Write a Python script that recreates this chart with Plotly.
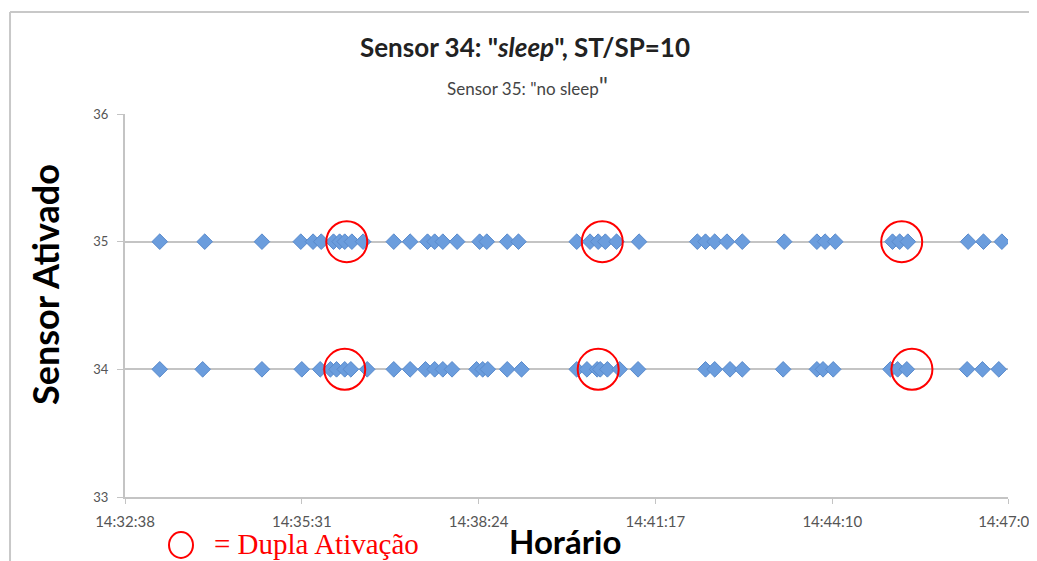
import plotly.graph_objects as go

# horários de ativação por sensor
DIA = "2013-01-01 "
t35 = ["14:33:12", "14:33:56", "14:34:52", "14:35:30", "14:35:42", "14:35:50", "14:36:02",
       "14:36:08", "14:36:13", "14:36:20", "14:36:31", "14:37:01", "14:37:17", "14:37:34",
       "14:37:41", "14:37:49", "14:38:03", "14:38:25", "14:38:32", "14:38:52", "14:39:03",
       "14:40:00", "14:40:13", "14:40:21", "14:40:28", "14:40:39", "14:41:01", "14:41:58",
       "14:42:06", "14:42:15", "14:42:27", "14:42:42", "14:43:23", "14:43:55", "14:44:03",
       "14:44:13", "14:45:09", "14:45:16", "14:45:24", "14:46:23", "14:46:38", "14:46:56"]
t34 = ["14:33:12", "14:33:54", "14:34:52", "14:35:31", "14:35:49", "14:35:59", "14:36:05",
       "14:36:13", "14:36:19", "14:36:35", "14:37:01", "14:37:17", "14:37:32", "14:37:41",
       "14:37:49", "14:37:58", "14:38:22", "14:38:28", "14:38:33", "14:38:52", "14:39:06",
       "14:40:00", "14:40:10", "14:40:20", "14:40:23", "14:40:30", "14:40:42", "14:41:00",
       "14:42:06", "14:42:15", "14:42:30", "14:42:42", "14:43:22", "14:43:55", "14:44:01",
       "14:44:11", "14:45:07", "14:45:14", "14:45:23", "14:46:22", "14:46:37", "14:46:53"]

# dupla ativação (círculos vermelhos)
dupla_t = ["14:36:15", "14:40:25", "14:45:18", "14:36:13", "14:40:21", "14:45:28"]
dupla_s = [35, 35, 35, 34, 34, 34]

ticks_x = ["14:32:38", "14:35:31", "14:38:24", "14:41:17", "14:44:10", "14:47:02"]
ticks_y = [33, 34, 35, 36]

AZUL = "#6b9ddd"
CINZA = "#c4c4c4"
FONTE = "Lato"

fig = go.Figure()
fig.add_trace(go.Scatter(
    x=[DIA + h for h in t35] + [DIA + h for h in t34],
    y=[35] * len(t35) + [34] * len(t34),
    mode="markers",
    marker=dict(symbol="diamond", size=12, color=AZUL, line=dict(color="#5a8bcc", width=1)),
))
fig.add_trace(go.Scatter(
    x=[DIA + h for h in dupla_t], y=dupla_s, mode="markers",
    marker=dict(symbol="circle-open", size=41, color="#ff0000", line=dict(width=2)),
))

# a página tem 8px de margem no body, então a figura fica 8px menor
fig.update_layout(
    width=1029, height=553, showlegend=False,
    paper_bgcolor="white", plot_bgcolor="white",
    margin=dict(l=117, r=29, t=106, b=64),
    font=dict(family=FONTE, color="#444"),
)
fig.update_xaxes(
    type="date", range=[DIA + ticks_x[0], DIA + ticks_x[-1]],
    tickvals=[DIA + h for h in ticks_x], ticktext=ticks_x,
    showgrid=False, showline=True, linecolor=CINZA, linewidth=2,
    ticks="outside", ticklen=5, tickcolor=CINZA, ticklabelstandoff=5,
    ticklabeloverflow="allow", automargin=False,
    tickfont=dict(size=15, color="#555"), zeroline=False,
)
fig.update_yaxes(
    range=[33, 36], tickvals=ticks_y, automargin=False,
    showgrid=True, gridcolor=CINZA, gridwidth=2,
    showline=True, linecolor=CINZA, linewidth=2,
    ticks="outside", ticklen=6, tickcolor=CINZA, ticklabelstandoff=6,
    tickfont=dict(size=13, color="#555"), zeroline=False,
)

anot = [
    dict(x=525, y=47, text='Sensor 34: "<i>sleep</i>", ST/SP=10',
         font=dict(size=26, color="#222", family=FONTE, weight="bold")),
    dict(x=527, y=85, text='Sensor 35: "no sleep<span style="font-size:25px">"</span>',
         font=dict(size=17, color="#444")),
    dict(x=45, y=285, text="Sensor Ativado", textangle=-90,
         font=dict(size=36, color="black", weight="bold")),
    dict(x=565, y=541, text="Horário",
         font=dict(size=33, color="black", weight="bold")),
    dict(x=316, y=544, text="= Dupla Ativação",
         font=dict(size=29, color="#ff0000", family="Liberation Serif")),
]
for a in anot:
    fig.add_annotation(
        xref="paper", yref="paper", showarrow=False, xanchor="center", yanchor="middle",
        x=(a.pop("x") - 125) / 883, y=(497 - a.pop("y")) / 383, **a)

# moldura do gráfico e círculo da legenda
fig.add_shape(type="line", xref="paper", yref="paper", x0=-0.1302, x1=1.04, y0=1.266, y1=1.266,
              line=dict(color="#c8c8c8", width=2))
fig.add_shape(type="line", xref="paper", yref="paper", x0=-0.1302, x1=-0.1302, y0=1.266, y1=-0.2,
              line=dict(color="#c8c8c8", width=2))
fig.add_shape(type="circle", xref="paper", yref="paper", xsizemode="pixel", ysizemode="pixel",
              xanchor=(181 - 125) / 883, yanchor=(497 - 545) / 383,
              x0=-12, x1=12, y0=-13, y1=13, line=dict(color="#ff0000", width=2))

fig.write_html("out.html")
